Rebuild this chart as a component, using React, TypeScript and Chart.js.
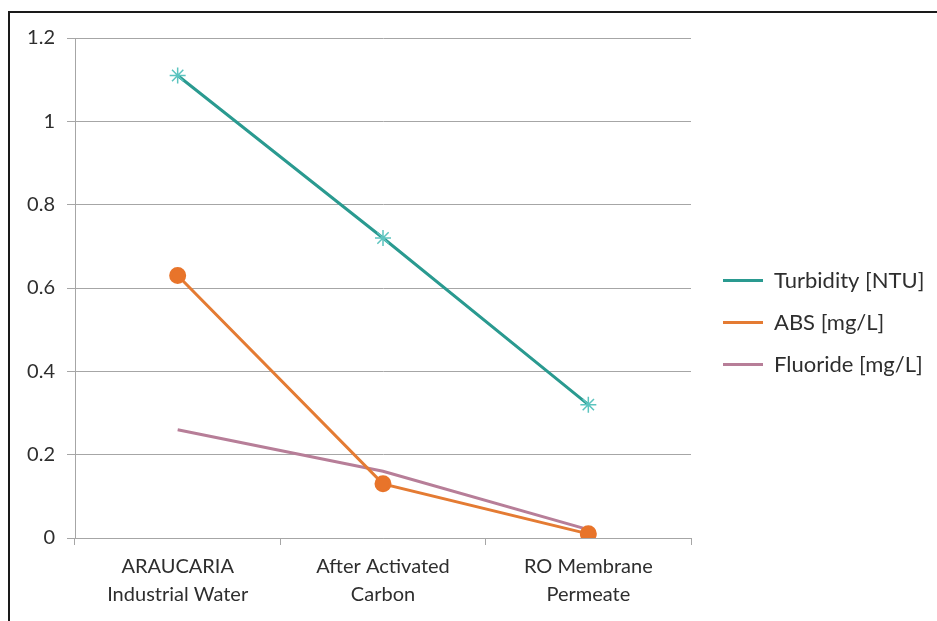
import React, { useEffect, useRef } from "react";
import { Chart, registerables } from "chart.js";

Chart.register(...registerables);

const categories: string[][] = [
  ["ARAUCARIA", "Industrial Water"],
  ["After Activated", "Carbon"],
  ["RO Membrane", "Permeate"],
];
const turbidity = [1.11, 0.72, 0.32];
const absValues = [0.63, 0.13, 0.01];
const fluoride = [0.26, 0.16, 0.02];
const seriesNames = ["Turbidity [NTU]", "ABS [mg/L]", "Fluoride [mg/L]"];
const yMin = 0;
const yMax = 1.2;
const yStep = 0.2;

const FONT = "Lato, 'Open Sans', sans-serif";
const TEXT = "#2e2e2e";
const GRID = "#a6a6a6";
const TEAL = "#2a9a90";
const ORANGE = "#e47b33";
const MAUVE = "#b77e98";
const LEGEND_GAP = 12;

const legendGapPlugin = {
  id: "legendGap",
  beforeLayout(chart: any) {
    const lg = chart.legend;
    if (lg && !lg.__gapPatched) {
      const orig = lg.fit.bind(lg);
      lg.fit = function () {
        orig();
        this.width += LEGEND_GAP;
      };
      lg.__gapPatched = true;
    }
  },
  afterLayout(chart: any) {
    const lg = chart.legend;
    if (lg) lg.left += LEGEND_GAP;
  },
};

export default function App() {
  const ref = useRef<HTMLCanvasElement | null>(null);

  useEffect(() => {
    if (!ref.current) return;
    const colors = [TEAL, ORANGE, MAUVE];
    const chart = new Chart(ref.current, {
      type: "line",
      plugins: [legendGapPlugin],
      data: {
        labels: categories,
        datasets: [
          {
            label: seriesNames[0],
            data: turbidity,
            borderColor: TEAL,
            backgroundColor: TEAL,
            borderWidth: 3,
            pointStyle: "star",
            pointRadius: 8,
            pointBorderColor: "#5cc4bf",
            pointBackgroundColor: "#5cc4bf",
            pointBorderWidth: 1.5,
          },
          {
            label: seriesNames[1],
            data: absValues,
            borderColor: ORANGE,
            backgroundColor: ORANGE,
            borderWidth: 3,
            pointStyle: "circle",
            pointRadius: 7,
            pointBorderColor: "#e8742a",
            pointBackgroundColor: "#e8742a",
          },
          {
            label: seriesNames[2],
            data: fluoride,
            borderColor: MAUVE,
            backgroundColor: MAUVE,
            borderWidth: 3,
            pointRadius: 0,
          },
        ],
      },
      options: {
        responsive: false,
        animation: false,
        layout: { padding: { top: 25, right: 3, bottom: 14, left: 0 } },
        plugins: {
          tooltip: { enabled: false },
          legend: {
            position: "right",
            align: "center",
            labels: {
              usePointStyle: true,
              pointStyleWidth: 40,
              padding: 20,
              color: TEXT,
              font: { family: FONT, size: 22 },
              generateLabels: (c: any) =>
                c.data.datasets.map((d: any, i: number) => ({
                  text: d.label,
                  fillStyle: colors[i],
                  strokeStyle: colors[i],
                  lineWidth: 3,
                  pointStyle: "line",
                  hidden: false,
                  datasetIndex: i,
                  fontColor: TEXT,
                })),
            },
          },
        },
        scales: {
          x: {
            offset: true,
            grid: {
              display: true,
              drawOnChartArea: false,
              drawTicks: true,
              tickLength: 7,
              color: GRID,
              offset: true,
            },
            border: { color: GRID, width: 1 },
            ticks: {
              color: TEXT,
              font: { family: FONT, size: 20, lineHeight: 1.4 },
              padding: 8,
              maxRotation: 0,
              autoSkip: false,
            },
            afterFit: (s: any) => {
              s.height = 69;
            },
          },
          y: {
            min: yMin,
            max: yMax,
            ticks: {
              stepSize: yStep,
              color: TEXT,
              font: { family: FONT, size: 20 },
              padding: 12,
              callback: (v: any) => String(Math.round(Number(v) * 10) / 10),
            },
            grid: { color: GRID, tickLength: 8, lineWidth: 1 },
            border: { color: GRID, width: 1 },
            afterFit: (s: any) => {
              s.width = 65;
            },
          },
        },
      },
    });
    return () => chart.destroy();
  }, []);

  return (
    <div
      style={{
        position: "fixed",
        left: 0,
        top: 0,
        width: 937,
        height: 621,
        overflow: "hidden",
        background: "#fff",
      }}
    >
      <div
        style={{
          position: "absolute",
          left: 8,
          top: 11,
          width: 940,
          height: 620,
          borderTop: "2px solid #1a1a1a",
          borderLeft: "2px solid #1a1a1a",
          background: "#fff",
        }}
      >
        <canvas ref={ref} width={927} height={608} style={{ display: "block" }} />
      </div>
    </div>
  );
}
